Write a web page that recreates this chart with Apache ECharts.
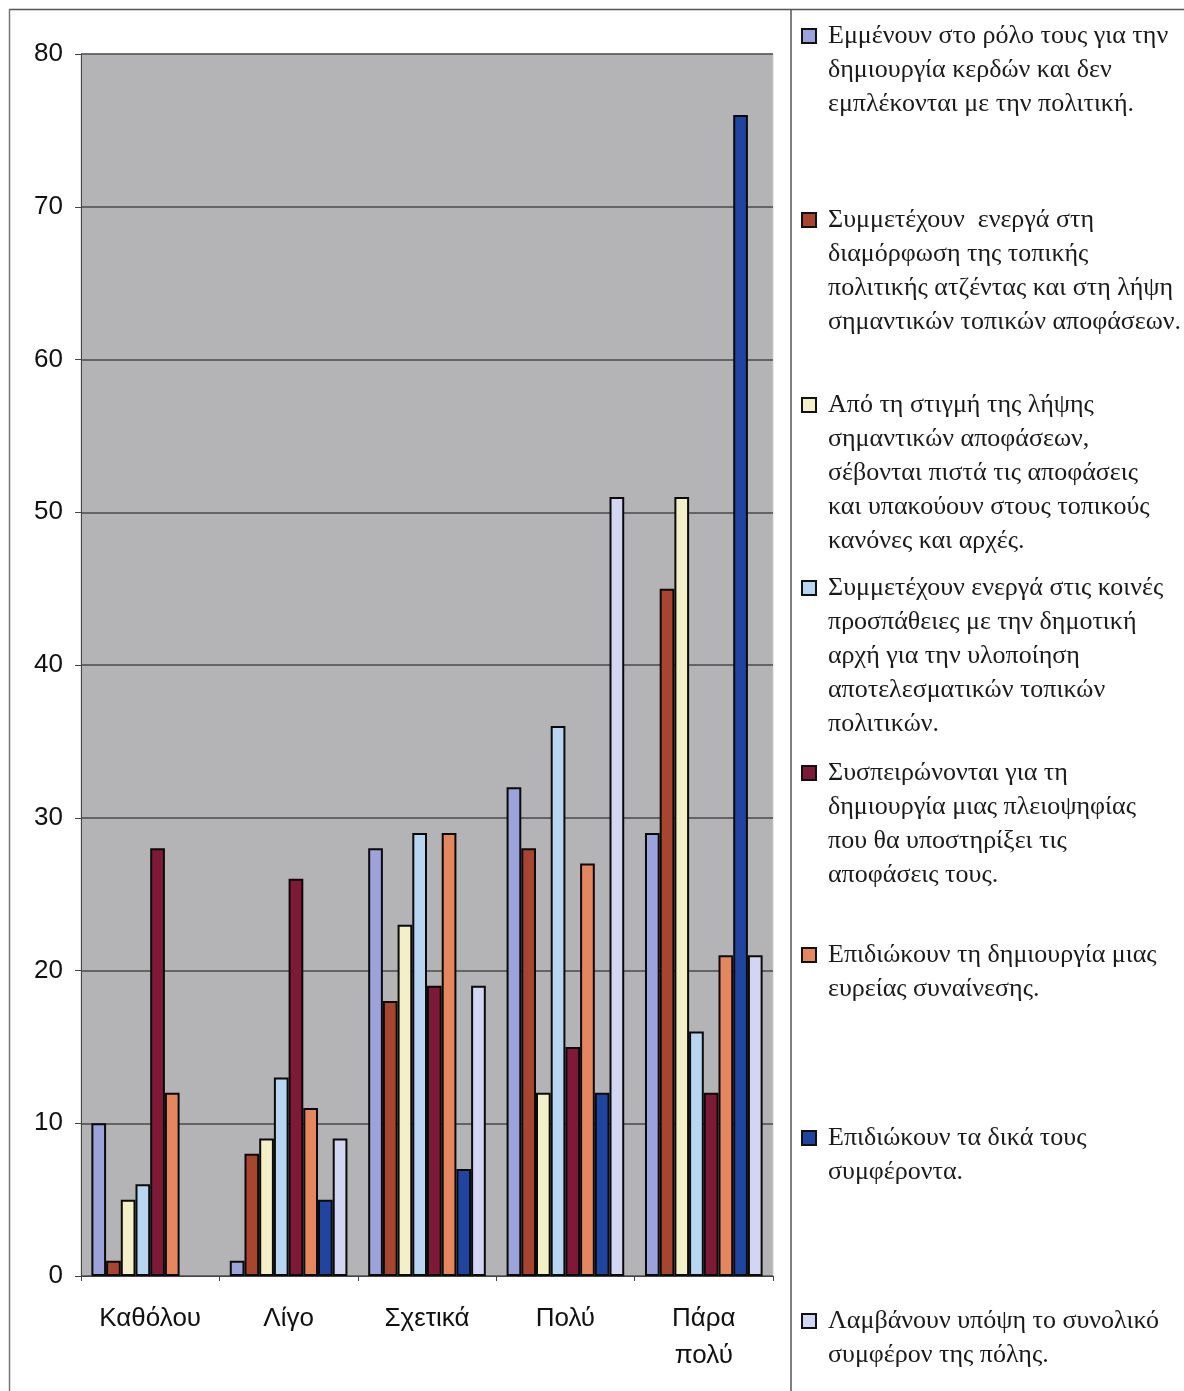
<!DOCTYPE html>
<html>
<head>
<meta charset="utf-8">
<script src="https://cdn.jsdelivr.net/npm/echarts@6/dist/echarts.min.js"></script>
<style>
  html, body { margin: 0; padding: 0; background: #fff; }
  #main { width: 1184px; height: 1391px; }
</style>
</head>
<body>
<div id="main"></div>
<script>
// categories along x
const categories = ['Καθόλου', 'Λίγο', 'Σχετικά', 'Πολύ', 'Πάρα\nπολύ'];

// one array per answer, values per category
const stayRole = [10, 1, 28, 32, 29];
const shapeAgenda = [1, 8, 18, 28, 45];
const respectDecisions = [5, 9, 23, 12, 51];
const jointEfforts = [6, 13, 29, 36, 16];
const rallyMajority = [28, 26, 19, 15, 12];
const consensus = [12, 11, 29, 27, 21];
const ownInterest = [0, 5, 7, 12, 76];
const cityInterest = [0, 9, 19, 51, 21];

const seriesValues = [stayRole, shapeAgenda, respectDecisions, jointEfforts,
  rallyMajority, consensus, ownInterest, cityInterest];

const seriesNames = [
  'Εμμένουν στο ρόλο τους για την δημιουργία κερδών και δεν εμπλέκονται με την πολιτική.',
  'Συμμετέχουν  ενεργά στη διαμόρφωση της τοπικής πολιτικής ατζέντας και στη λήψη σημαντικών τοπικών αποφάσεων.',
  'Από τη στιγμή της λήψης σημαντικών αποφάσεων, σέβονται πιστά τις αποφάσεις και υπακούουν στους τοπικούς κανόνες και αρχές.',
  'Συμμετέχουν ενεργά στις κοινές προσπάθειες με την δημοτική αρχή για την υλοποίηση αποτελεσματικών τοπικών πολιτικών.',
  'Συσπειρώνονται για τη δημιουργία μιας πλειοψηφίας που θα υποστηρίξει τις αποφάσεις τους.',
  'Επιδιώκουν τη δημιουργία μιας ευρείας συναίνεσης.',
  'Επιδιώκουν τα δικά τους συμφέροντα.',
  'Λαμβάνουν υπόψη το συνολικό συμφέρον της πόλης.'
];

// legend text as wrapped in the original
const legendLines = [
  ['Εμμένουν στο ρόλο τους για την', 'δημιουργία κερδών και δεν', 'εμπλέκονται με την πολιτική.'],
  ['Συμμετέχουν  ενεργά στη', 'διαμόρφωση της τοπικής', 'πολιτικής ατζέντας και στη λήψη', 'σημαντικών τοπικών αποφάσεων.'],
  ['Από τη στιγμή της λήψης', 'σημαντικών αποφάσεων,', 'σέβονται πιστά τις αποφάσεις', 'και υπακούουν στους τοπικούς', 'κανόνες και αρχές.'],
  ['Συμμετέχουν ενεργά στις κοινές', 'προσπάθειες με την δημοτική', 'αρχή για την υλοποίηση', 'αποτελεσματικών τοπικών', 'πολιτικών.'],
  ['Συσπειρώνονται για τη', 'δημιουργία μιας πλειοψηφίας', 'που θα υποστηρίξει τις', 'αποφάσεις τους.'],
  ['Επιδιώκουν τη δημιουργία μιας', 'ευρείας συναίνεσης.'],
  ['Επιδιώκουν τα δικά τους', 'συμφέροντα.'],
  ['Λαμβάνουν υπόψη το συνολικό', 'συμφέρον της πόλης.']
];

const colors = ['#9ca3da', '#a8452f', '#f3f0c8', '#b8d6f2', '#7e1a37', '#e5865f', '#1f45a0', '#d3d6f3'];

// y of the first line of each legend entry
const legendFirstLine = [36, 220, 405, 588, 773, 955, 1138, 1321];
const LH = 34;

const chart = echarts.init(document.getElementById('main'));

const legends = seriesNames.map((name, i) => {
  const n = legendLines[i].length;
  return {
    data: [name],
    left: 801,
    top: legendFirstLine[i] - (2 * n - 1) * LH / 2,
    padding: 0,
    itemWidth: 14,
    itemHeight: 14,
    icon: 'rect',
    selectedMode: false,
    itemStyle: { borderColor: '#111', borderWidth: 2 },
    // blank lines on top keep the marker level with the first line
    formatter: () => '\n'.repeat(n - 1) + legendLines[i].join('\n'),
    textStyle: {
      fontFamily: '"Liberation Serif", "DejaVu Serif", serif',
      fontSize: 26,
      lineHeight: LH,
      color: '#1a1a1a',
      padding: [0, 0, 0, 7]
    }
  };
});

const option = {
  animation: false,
  backgroundColor: '#fff',
  legend: legends,
  grid: {
    left: 81,
    right: 411,
    top: 54,
    bottom: 115,
    show: true,
    backgroundColor: '#b4b4b6',
    borderColor: '#cfcfcf',
    borderWidth: 1
  },
  xAxis: {
    type: 'category',
    data: categories,
    axisLine: { lineStyle: { color: '#444', width: 1 } },
    axisTick: { show: true, length: 5, lineStyle: { color: '#444' } },
    axisLabel: {
      margin: 24,
      fontFamily: '"Liberation Sans", Arial, sans-serif',
      fontSize: 26,
      lineHeight: 37,
      color: '#111'
    }
  },
  yAxis: {
    type: 'value',
    min: 0,
    max: 80,
    interval: 10,
    axisLine: { show: true, lineStyle: { color: '#444', width: 1 } },
    axisTick: { show: true, length: 6, lineStyle: { color: '#444' } },
    axisLabel: {
      margin: 18,
      fontFamily: '"Liberation Sans", Arial, sans-serif',
      fontSize: 26,
      color: '#111'
    },
    splitLine: { lineStyle: { color: '#4a4a4a', width: 1.5 } }
  },
  series: seriesNames.map((name, i) => ({
    name: name,
    type: 'bar',
    // zero bars get no outline, as in the original
    data: seriesValues[i].map(v => v === 0 ? { value: 0, itemStyle: { borderWidth: 0 } } : v),
    barGap: '0%',
    barCategoryGap: '15%',
    itemStyle: { color: colors[i], borderColor: '#0a0a0a', borderWidth: 2 }
  })),
  graphic: [
    { type: 'line', shape: { x1: 9, y1: 9.5, x2: 1184, y2: 9.5 }, style: { stroke: '#555', lineWidth: 1.5 } },
    { type: 'line', shape: { x1: 9.5, y1: 9, x2: 9.5, y2: 1391 }, style: { stroke: '#777', lineWidth: 1.5 } },
    { type: 'line', shape: { x1: 791, y1: 9, x2: 791, y2: 1391 }, style: { stroke: '#555', lineWidth: 1.5 } }
  ]
};

chart.setOption(option);
</script>
</body>
</html>
